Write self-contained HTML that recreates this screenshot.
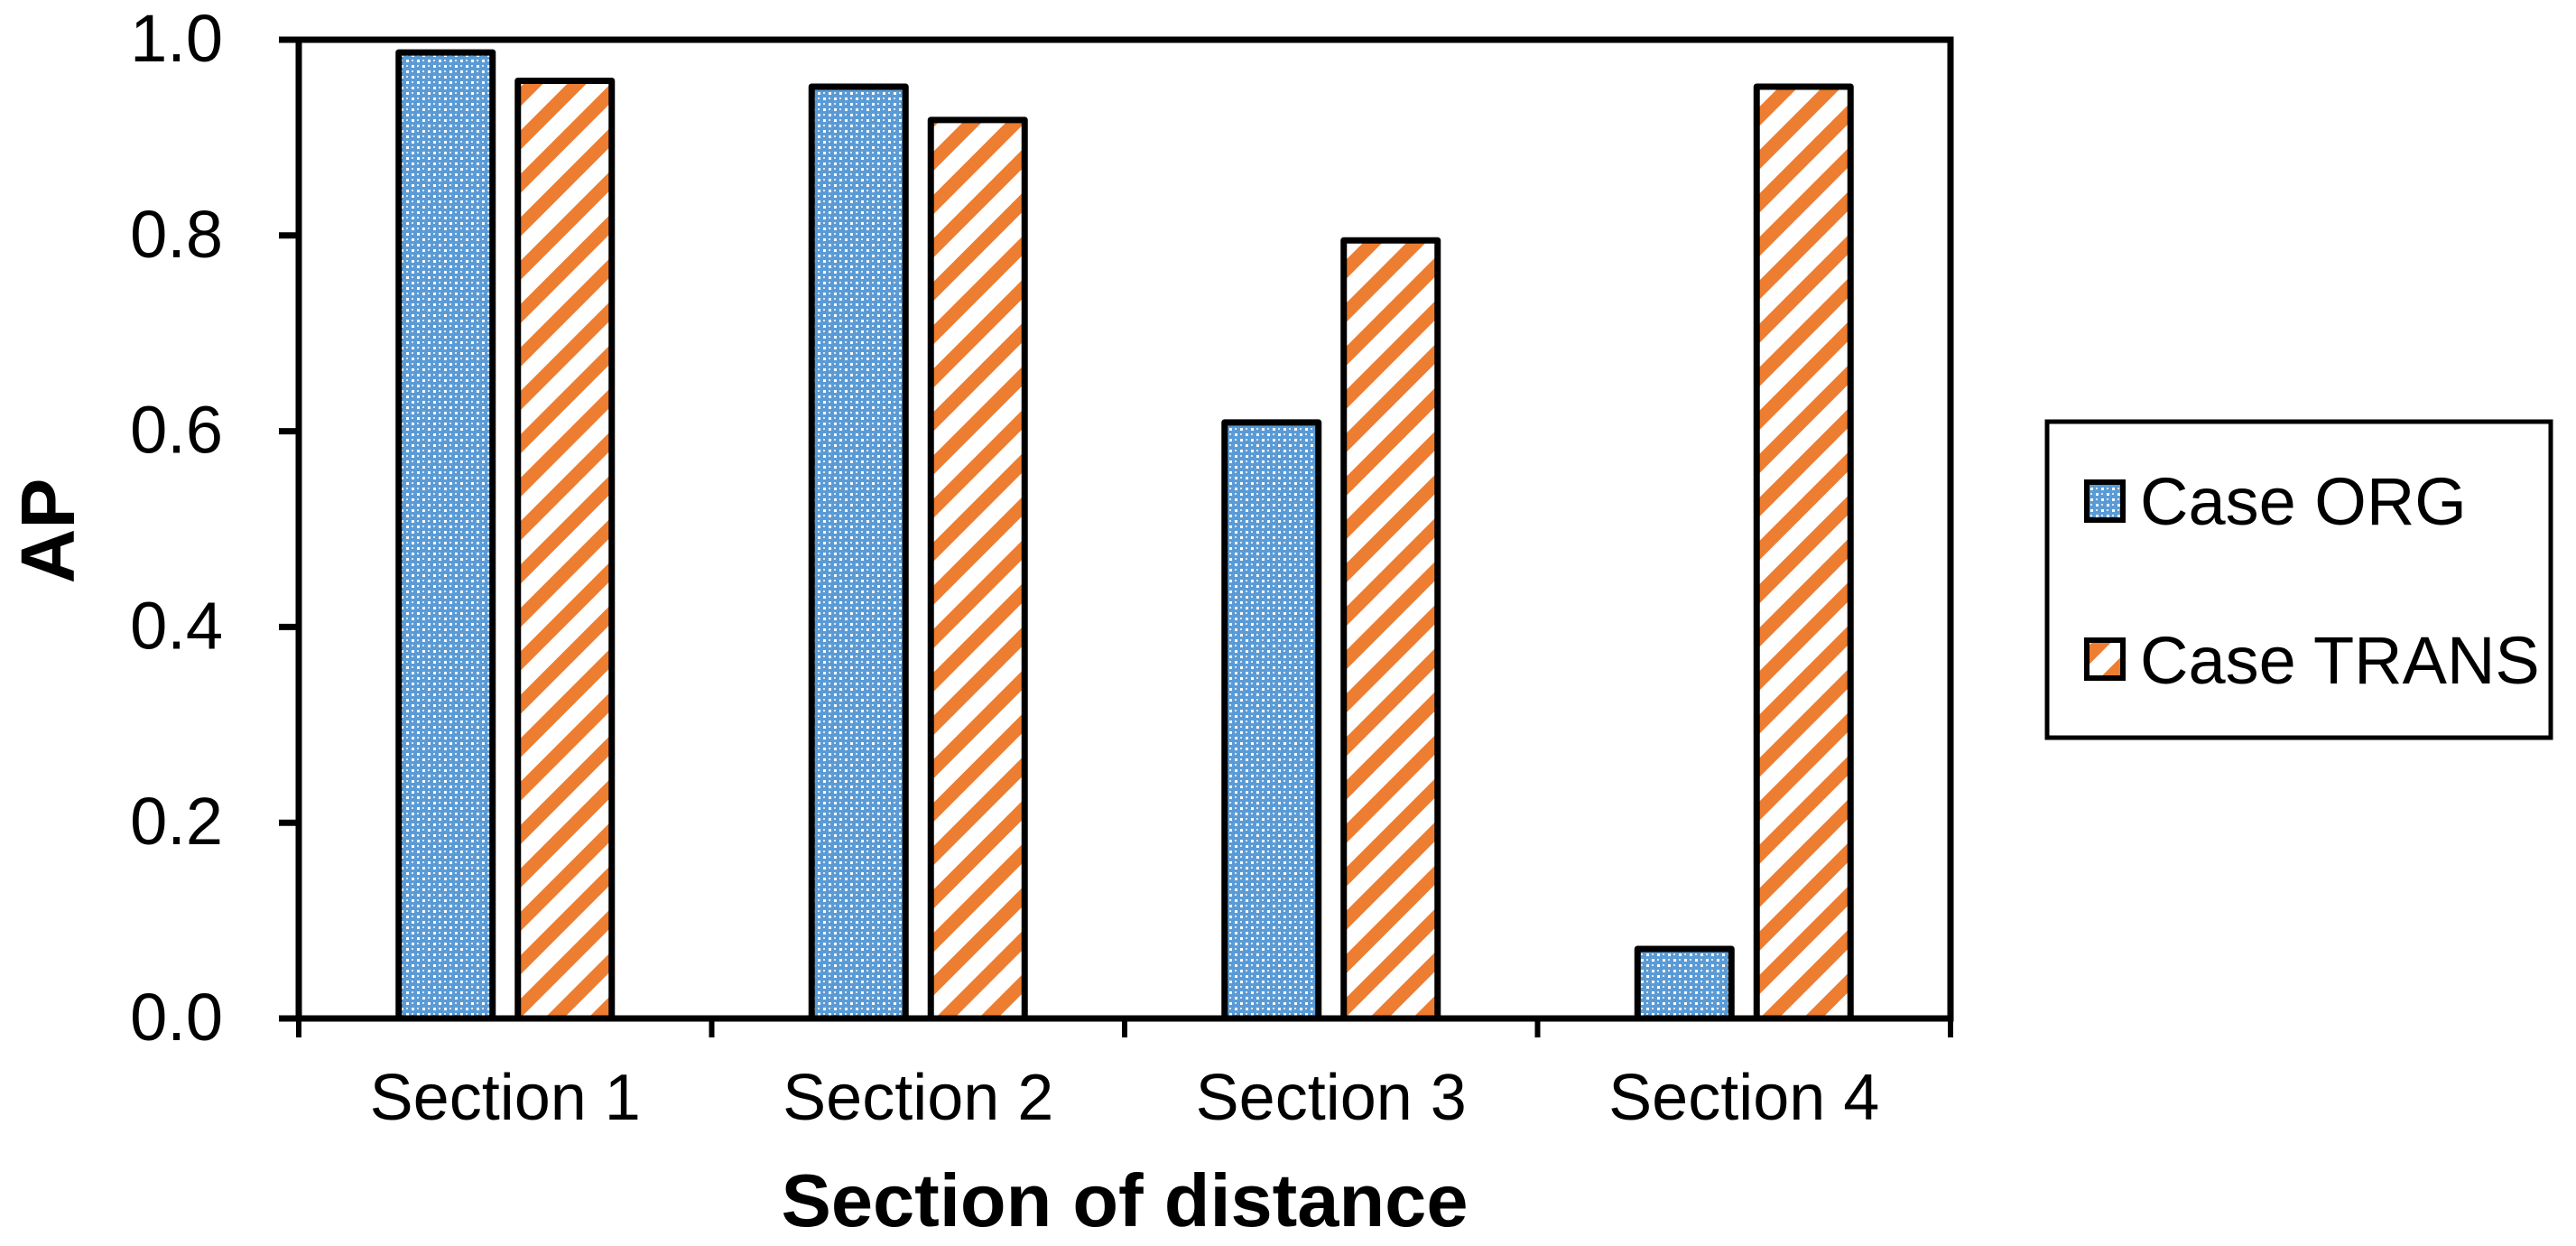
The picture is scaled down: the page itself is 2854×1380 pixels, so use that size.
<!DOCTYPE html>
<html><head><meta charset="utf-8"><style>
html,body{margin:0;padding:0;background:#fff;}
svg{display:block;font-family:"Liberation Sans",Arial,sans-serif;}
</style></head><body>
<svg id="chart" width="2854" height="1380" viewBox="0 0 2854 1380" xmlns="http://www.w3.org/2000/svg">
<defs>
<pattern id="pOrg" width="12" height="12" patternUnits="userSpaceOnUse">
<rect width="12" height="12" fill="#5b9bd5"/>
<rect x="0" y="0" width="3" height="3" fill="#fff"/>
<rect x="6" y="6" width="3" height="3" fill="#fff"/>
<rect x="6" y="0" width="2" height="2" fill="#dbe8f6"/>
<rect x="0" y="6" width="2" height="2" fill="#dbe8f6"/>
</pattern>
<pattern id="pTrans" width="34" height="34" patternUnits="userSpaceOnUse" patternTransform="rotate(45)">
<rect width="34" height="34" fill="#fff"/>
<rect x="0" y="0" width="15" height="34" fill="#ed7d31"/>
</pattern>
</defs>
<g id="plot"></g>
<text x="1246" y="1358" font-size="83" font-weight="bold" text-anchor="middle">Section of distance</text>
<text transform="translate(82,588) rotate(-90)" font-size="84" font-weight="bold" text-anchor="middle">AP</text>
<g>
<rect x="2268" y="467" width="558" height="350" fill="#fff" stroke="#000" stroke-width="5"/>
<g>
<rect x="2312" y="534" width="40" height="42" fill="url(#pOrg)" stroke="#000" stroke-width="6"/>
<text x="2371" y="581" font-size="74">Case ORG</text>
</g>
<g>
<rect x="2312" y="709" width="40" height="42" fill="url(#pTrans)" stroke="#000" stroke-width="6"/>
<text x="2371" y="757" font-size="74">Case TRANS</text>
</g>
</g>
</svg>
<script>
const categories = ["Section 1","Section 2","Section 3","Section 4"];
const orgValues = [0.987, 0.952, 0.609, 0.071];
const transValues = [0.958, 0.918, 0.795, 0.952];
const yTicks = [0, 0.2, 0.4, 0.6, 0.8, 1.0];
const yTickLabels = ["0.0","0.2","0.4","0.6","0.8","1.0"];

const NS = "http://www.w3.org/2000/svg";
const X0 = 331, X1 = 2161, Y0 = 1128, Y1 = 44;
const catW = (X1 - X0) / categories.length;
function yScale(v){ return Y0 - (v / 1.0) * (Y0 - Y1); }
function xCat(i){ return X0 + catW * (i + 0.5); }
const plot = document.getElementById('plot');
function mk(tag, attrs){ const e = document.createElementNS(NS, tag); for (const k in attrs) e.setAttribute(k, attrs[k]); plot.appendChild(e); return e; }

const barW = 104, gap = 28;
categories.forEach((c, i) => {
  const cx = xCat(i);
  const yo = yScale(orgValues[i]);
  const b1 = mk('rect', {x: cx - gap/2 - barW, y: yo, width: barW, height: Y0 - yo, fill: 'url(#pOrg)', stroke: '#000', 'stroke-width': 7, 'stroke-linejoin': 'round'});
  
  
  const yt = yScale(transValues[i]);
  const b2 = mk('rect', {x: cx + gap/2, y: yt, width: barW, height: Y0 - yt, fill: 'url(#pTrans)', stroke: '#000', 'stroke-width': 7, 'stroke-linejoin': 'round'});
  
  
  const t = mk('text', {x: cx, y: 1240, 'font-size': 72, 'text-anchor': 'middle'});
  t.textContent = c;
  
  
});
const fr = mk('rect', {x: X0, y: Y1, width: X1 - X0, height: Y0 - Y1, fill: 'none', stroke: '#000', 'stroke-width': 7});


for (let i = 0; i <= categories.length; i++) {
  const x = X0 + catW * i;
  const tk = mk('line', {x1: x, y1: Y0, x2: x, y2: Y0 + 21, stroke: '#000', 'stroke-width': 6});
  
  
}
yTicks.forEach((v, i) => {
  const y = yScale(v);
  const tk = mk('line', {x1: X0 - 22, y1: y, x2: X0, y2: y, stroke: '#000', 'stroke-width': 7});
  
  
  const t = mk('text', {x: 247, y: y + 24, 'font-size': 74, 'text-anchor': 'end'});
  t.textContent = yTickLabels[i];
  
  
});
</script>
</body></html>
